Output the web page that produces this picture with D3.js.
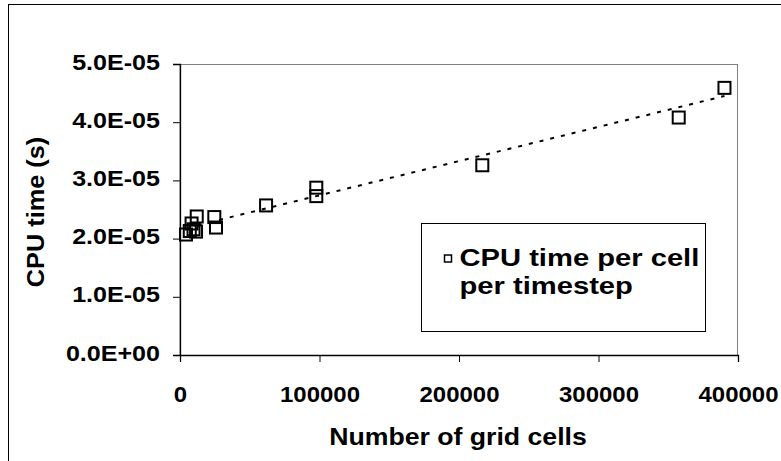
<!DOCTYPE html>
<html>
<head>
<meta charset="utf-8">
<script src="https://cdn.jsdelivr.net/npm/d3@7"></script>
<style>
  html, body { margin: 0; padding: 0; background: #fff; }
  text { font-family: "Liberation Sans", Arial, sans-serif; font-weight: bold; fill: #000; }
</style>
</head>
<body>
<script>
// ---- data ----
const gridCells = [4300, 7000, 8300, 9700, 11500, 12000, 24600, 25800, 61700, 97700, 97700, 216700, 357500, 390300];
const cpuTime   = [2.07e-5, 2.13e-5, 2.26e-5, 2.16e-5, 2.12e-5, 2.38e-5, 2.37e-5, 2.19e-5, 2.57e-5, 2.875e-5, 2.73e-5, 3.26e-5, 4.08e-5, 4.59e-5];
const trendX = [5000, 390300];
const trendY = [2.185e-5, 4.45e-5];
const xTicks = [0, 100000, 200000, 300000, 400000];
const yTicks = [0, 1e-5, 2e-5, 3e-5, 4e-5, 5e-5];
const yTickLabels = ["0.0E+00", "1.0E-05", "2.0E-05", "3.0E-05", "4.0E-05", "5.0E-05"];
const seriesName = ["CPU time per cell", "per timestep"];
const xTitle = "Number of grid cells";
const yTitle = "CPU time (s)";

const W = 781, H = 461;
const svg = d3.select("body").append("svg").attr("width", W).attr("height", H);

// outer chart border
svg.append("rect").attr("x", 8.5).attr("y", 4.5).attr("width", 800).attr("height", 500)
  .attr("fill", "#fff").attr("stroke", "#000").attr("stroke-width", 1);

const x = d3.scaleLinear().domain([0, 400000]).range([180, 738]);
const y = d3.scaleLinear().domain([0, 5e-5]).range([355, 64]);

function stretch(sel, k) {
  sel.each(function () {
    const n = this.getComputedTextLength();
    d3.select(this).attr("textLength", n * k).attr("lengthAdjust", "spacingAndGlyphs");
  });
}

// plot area frame (gray)
svg.append("rect").attr("x", x(0)).attr("y", y(5e-5) + 0.5)
  .attr("width", x(400000) - x(0) - 0.5).attr("height", y(0) - y(5e-5))
  .attr("fill", "none").attr("stroke", "#808080").attr("stroke-width", 1);

// axes
const xAxis = d3.axisBottom(x).tickValues(xTicks).tickSize(7).tickFormat(d3.format("d"));
const gx = svg.append("g").attr("transform", `translate(0,${y(0)})`).call(xAxis);
gx.select(".domain").attr("stroke", "#000").attr("stroke-width", 1.3);
gx.selectAll(".tick line").attr("stroke", "#000");
gx.selectAll(".tick text").attr("font-size", 22).attr("y", 0).attr("dy", null)
  .attr("transform", "translate(0,47)").style("font-family", "'Liberation Sans', Arial, sans-serif").style("font-weight", "bold").attr("fill", "#000");
stretch(gx.selectAll(".tick text"), 1.09);

const yAxis = d3.axisLeft(y).tickValues(yTicks).tickSize(7).tickFormat((d, i) => yTickLabels[i]);
const gy = svg.append("g").attr("transform", `translate(${x(0)},0)`).call(yAxis);
gy.select(".domain").attr("stroke", "#000").attr("stroke-width", 1.3);
gy.selectAll(".tick line").attr("stroke", "#000");
gy.selectAll(".tick text").attr("font-size", 22).attr("x", -20).attr("dy", null).attr("y", 5)
  .style("font-family", "'Liberation Sans', Arial, sans-serif").style("font-weight", "bold").attr("fill", "#000");
stretch(gy.selectAll(".tick text"), 1.14);

// trendline (dotted)
const line = d3.line().x(d => x(d[0])).y(d => y(d[1]));
svg.append("path").datum(trendX.map((v, i) => [v, trendY[i]]))
  .attr("d", line).attr("fill", "none").attr("stroke", "#000")
  .attr("stroke-width", 2).attr("stroke-dasharray", "4,7");

// markers
const ms = 12;
svg.append("g").selectAll("rect").data(gridCells.map((v, i) => [v, cpuTime[i]]))
  .join("rect")
  .attr("x", d => x(d[0]) - ms / 2).attr("y", d => y(d[1]) - ms / 2)
  .attr("width", ms).attr("height", ms)
  .attr("fill", "none").attr("stroke", "#000").attr("stroke-width", 2);

// axis titles
const xt = svg.append("text").attr("x", 458).attr("y", 445).attr("text-anchor", "middle")
  .attr("font-size", 24).text(xTitle);
stretch(xt, 1.11);
const yt = svg.append("text").attr("transform", "translate(43.5,212) rotate(-90)")
  .attr("text-anchor", "middle").attr("font-size", 23).text(yTitle);
stretch(yt, 1.1);

// legend
svg.append("rect").attr("x", 421.5).attr("y", 223.5).attr("width", 284).attr("height", 108)
  .attr("fill", "#fff").attr("stroke", "#000").attr("stroke-width", 1);
svg.append("rect").attr("x", 444.5).attr("y", 255).attr("width", 7).attr("height", 7)
  .attr("fill", "none").attr("stroke", "#000").attr("stroke-width", 1.5);
const lt = svg.append("g").selectAll("text").data(seriesName).join("text")
  .attr("x", 459.5).attr("y", (d, i) => 266 + i * 28)
  .attr("font-size", 24.5).text(d => d);
stretch(lt, 1.19);
</script>
</body>
</html>
